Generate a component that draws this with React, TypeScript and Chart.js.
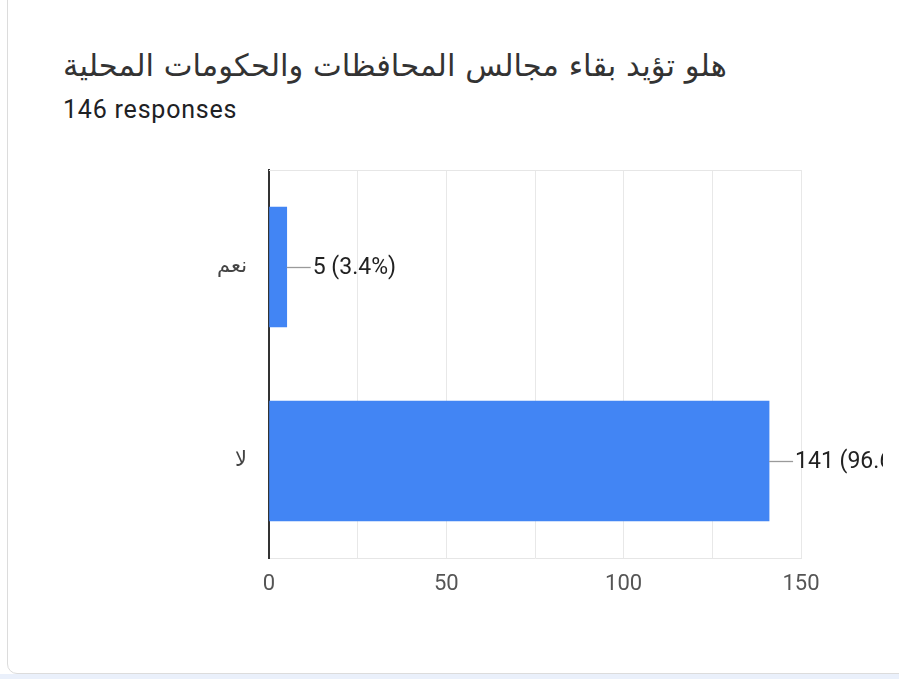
import React, { useEffect, useRef } from "react";
import { Chart, registerables } from "chart.js";

Chart.register(...registerables);

const title = "هلو تؤيد بقاء مجالس المحافظات والحكومات المحلية";
const subtitle = "146 responses";
const categories = ["نعم", "لا"];
const counts = [5, 141];
const percents = [3.4, 96.6];
const xMax = 150;
const xStep = 25;
const xLabelStep = 50;

const labelPlugin = {
  id: "leaderLabels",
  beforeDatasetsDraw(chart: any) {
    const { ctx, chartArea } = chart;
    ctx.save();
    ctx.strokeStyle = "#e6e6e6";
    ctx.lineWidth = 1;
    ctx.beginPath();
    ctx.moveTo(chartArea.left, chartArea.top + 0.5);
    ctx.lineTo(chartArea.right, chartArea.top + 0.5);
    ctx.stroke();
    ctx.restore();
  },
  afterDatasetsDraw(chart: any) {
    const { ctx } = chart;
    const meta = chart.getDatasetMeta(0);
    ctx.save();
    meta.data.forEach((el: any, i: number) => {
      const x = el.x;
      const y = Math.round(el.y) + 0.5;
      ctx.strokeStyle = "#9a9a9a";
      ctx.lineWidth = 1.3;
      ctx.beginPath();
      ctx.moveTo(x, y);
      ctx.lineTo(x + 24, y);
      ctx.stroke();
      ctx.fillStyle = "#222222";
      ctx.font = "23px Roboto";
      ctx.textBaseline = "middle";
      ctx.textAlign = "left";
      ctx.fillText(`${counts[i]} (${percents[i]}%)`, x + 26, y + 1);
    });
    ctx.restore();
  },
};

export default function App() {
  const canvasRef = useRef<HTMLCanvasElement | null>(null);

  useEffect(() => {
    if (!canvasRef.current) return;
    const chart = new Chart(canvasRef.current, {
      type: "bar",
      data: {
        labels: categories,
        datasets: [
          {
            data: counts,
            backgroundColor: "#4285f4",
            borderWidth: 0,
            barThickness: 120,
          },
        ],
      },
      options: {
        indexAxis: "y",
        animation: false,
        responsive: false,
        maintainAspectRatio: false,
        layout: { padding: { top: 20, right: 82, left: 0, bottom: 0 } },
        plugins: {
          legend: { display: false },
          tooltip: { enabled: false },
          title: { display: false },
        },
        scales: {
          x: {
            min: 0,
            max: xMax,
            ticks: {
              stepSize: xStep,
              padding: 13,
              color: "#555555",
              font: { family: "Roboto", size: 22 },
              callback: (v: any) => (Number(v) % xLabelStep === 0 ? String(v) : ""),
              maxRotation: 0,
            },
            grid: { color: "#e8e8e8", lineWidth: 1, drawTicks: false },
            border: { display: true, color: "#e6e6e6", width: 1 },
            afterFit: (scale: any) => {
              scale.height = 72;
              scale.paddingLeft = 0;
              scale.paddingRight = 0;
            },
          },
          y: {
            ticks: {
              padding: 22,
              color: "#444444",
              font: { family: "DejaVu Sans", size: 21 },
            },
            grid: { color: "rgba(0,0,0,0)", drawTicks: false },
            border: { display: true, color: "#333333", width: 2 },
            afterFit: (scale: any) => {
              scale.width = 119;
              scale.paddingTop = 0;
              scale.paddingBottom = 0;
            },
          },
        },
      },
      plugins: [labelPlugin],
    });
    return () => chart.destroy();
  }, []);

  return (
    <div
      style={{
        position: "fixed",
        left: 0,
        top: 0,
        width: 899,
        height: 679,
        background: "#ffffff",
        overflow: "hidden",
      }}
    >
      <div
        style={{
          position: "absolute",
          left: 0,
          top: 674,
          width: 899,
          height: 10,
          background: "#eaf0fb",
        }}
      />
      <div
        style={{
          position: "absolute",
          left: 7,
          top: -30,
          width: 950,
          height: 704,
          border: "1.5px solid #dcdcdc",
          borderRadius: 10,
          background: "#ffffff",
          boxSizing: "border-box",
        }}
      />
      <div
        dir="rtl"
        style={{
          position: "absolute",
          left: 63,
          top: 46,
          whiteSpace: "nowrap",
          fontFamily: "'DejaVu Sans', sans-serif",
          fontSize: 30.6,
          lineHeight: "40px",
          color: "#333333",
        }}
      >
        {title}
      </div>
      <div
        style={{
          position: "absolute",
          left: 63,
          top: 95,
          whiteSpace: "nowrap",
          fontFamily: "Roboto, sans-serif",
          fontSize: 25,
          letterSpacing: "0.8px",
          lineHeight: "30px",
          color: "#202124",
        }}
      >
        {subtitle}
      </div>
      <canvas
        ref={canvasRef}
        width={733}
        height={480}
        style={{ position: "absolute", left: 150, top: 150, width: 733, height: 480 }}
      />
    </div>
  );
}
